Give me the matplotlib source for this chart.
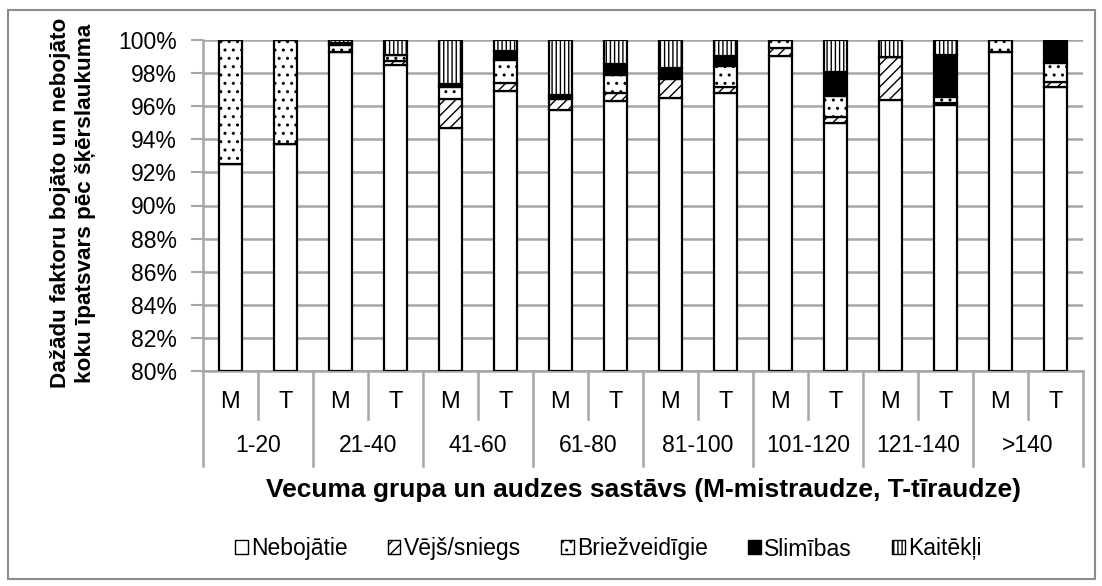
import matplotlib
matplotlib.use("Agg")
import matplotlib.pyplot as plt
import matplotlib.transforms as mtransforms
from matplotlib.patches import Rectangle
from matplotlib.lines import Line2D
from matplotlib.ticker import FuncFormatter, MultipleLocator

# Age groups and stand composition (M = mixed, T = pure)
groups = ['1-20', '21-40', '41-60', '61-80', '81-100', '101-120', '121-140', '>140']
stand_types = ['M', 'T']

# Share of basal area (%) per bar, ordered group by group, M then T
nebojatie = [92.5, 93.7, 99.3, 98.5, 94.7, 96.9, 95.8, 96.3, 96.5, 96.8, 99.04, 95.0, 96.4, 96.1, 99.3, 97.14]
vejs_sniegs = [0, 0, 0, 0.25, 1.76, 0.53, 0.63, 0.5, 1.15, 0.36, 0.46, 0.36, 2.59, 0.1, 0, 0.34]
briezveidigie = [7.5, 6.3, 0.4, 0.35, 0.7, 1.35, 0.1, 1.07, 0.06, 1.25, 0.5, 1.25, 0, 0.36, 0.7, 1.11]
slimibas = [0, 0, 0.1, 0, 0.2, 0.57, 0.14, 0.71, 0.6, 0.6, 0, 1.45, 0, 2.53, 0, 1.41]
kaitekli = [0, 0, 0.2, 0.9, 2.63, 0.65, 3.33, 1.41, 1.69, 1.0, 0, 1.94, 1.0, 0.9, 0, 0]

series_names = ['Nebojātie', 'Vējš/sniegs', 'Briežveidīgie', 'Slimības', 'Kaitēkļi']
y_min, y_max = 80, 100

plt.rcParams['font.family'] = ['Liberation Sans', 'DejaVu Sans']
plt.rcParams['hatch.linewidth'] = 1.0
plt.rcParams['hatch.color'] = 'black'

fig = plt.figure(figsize=(11.02, 5.86), dpi=100)
ax = fig.add_axes([203 / 1102, 1 - 371 / 586, 880 / 1102, 331 / 586])

grid_color = '#a6a6a6'
n = len(groups) * len(stand_types)
xs = list(range(n))
bar_w = 0.42

styles = [
    dict(facecolor='white', hatch=None),
    dict(facecolor='white', hatch='///'),
    dict(facecolor='white', hatch='..'),
    dict(facecolor='black', hatch=None),
    dict(facecolor='white', hatch='||||'),
]
series = [nebojatie, vejs_sniegs, briezveidigie, slimibas, kaitekli]

bottom = [y_min] * n
handles = []
for name, vals, st in zip(series_names, series, styles):
    heights = list(vals)
    if name == 'Nebojātie':
        heights = [v - y_min for v in vals]
    bars = ax.bar(xs, heights, bar_w, bottom=bottom, facecolor=st['facecolor'],
                  hatch=st['hatch'], edgecolor='black', linewidth=1.6, zorder=3,
                  label=name)
    handles.append(bars)
    bottom = [b + h for b, h in zip(bottom, heights)]

ax.set_xlim(-0.5, n - 0.5)
ax.set_ylim(y_min, y_max)
ax.yaxis.set_major_locator(MultipleLocator(2))
ax.yaxis.set_major_formatter(FuncFormatter(lambda v, p: f'{v:.0f}%'))
ax.grid(axis='y', color=grid_color, linewidth=1.8, zorder=0)
ax.set_axisbelow(True)
ax.set_xticks([])
ax.tick_params(axis='y', direction='out', length=9, width=1.5, color=grid_color,
               labelsize=16.5, pad=10)
for s in ['top', 'right']:
    ax.spines[s].set_visible(False)
for s in ['left', 'bottom']:
    ax.spines[s].set_color(grid_color)
    ax.spines[s].set_linewidth(1.8)

# Two-level category axis drawn below the plot
trans = mtransforms.blended_transform_factory(ax.transData, fig.transFigure)
def fy(px):
    return 1 - px / 586

y_axis_px = 371
for i in range(n + 1):
    edge = i - 0.5
    end_px = 466 if i % len(stand_types) == 0 else 419
    fig.add_artist(Line2D([edge, edge], [fy(y_axis_px), fy(end_px)], transform=trans,
                          color=grid_color, linewidth=1.8))
for i in range(n):
    ax.text(xs[i], fy(402), stand_types[i % len(stand_types)], transform=trans,
            ha='center', va='center', fontsize=17)
for g, name in enumerate(groups):
    center = g * len(stand_types) + (len(stand_types) - 1) / 2
    ax.text(center, fy(446), name, transform=trans, ha='center', va='center',
            fontsize=16.5)

fig.text((203 + 880 / 2) / 1102, fy(490), 'Vecuma grupa un audzes sastāvs (M-mistraudze, T-tīraudze)',
         ha='center', va='center', fontsize=19, fontweight='bold')
fig.text(73 / 1102, fy(203), 'Dažādu faktoru bojāto un nebojāto\nkoku īpatsvars pēc šķērslaukuma',
         ha='center', va='center', rotation=90, fontsize=16.2, fontweight='bold',
         linespacing=1.2)

leg = fig.legend(handles=handles, labels=series_names, loc='center',
                 bbox_to_anchor=(0.552, fy(549)), ncol=5, frameon=False,
                 fontsize=16.5, handlelength=0.55, handleheight=0.55, handletextpad=0.15,
                 columnspacing=1.75)
for h in leg.legend_handles:
    h.set_linewidth(1.0)

# Outer chart border
fig.add_artist(Rectangle((8 / 1102, 1 - 579 / 586), 1087 / 1102, 569 / 586,
                         transform=fig.transFigure, fill=False,
                         edgecolor='#8c8c8c', linewidth=1.5))

fig.savefig('out.png', dpi=100)
